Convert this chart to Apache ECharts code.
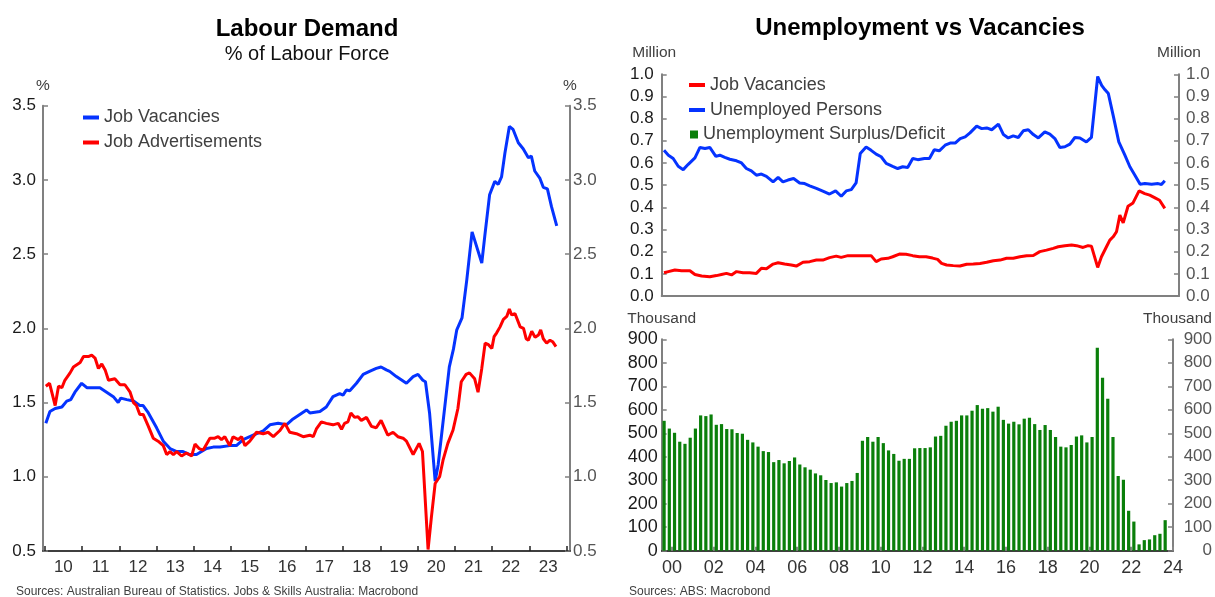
<!DOCTYPE html>
<html>
<head>
<meta charset="utf-8">
<script src="https://cdn.jsdelivr.net/npm/echarts@6/dist/echarts.min.js"></script>
<style>
  html, body { margin: 0; padding: 0; background: #fff; }
  #main { width: 1215px; height: 597px; }
</style>
</head>
<body>
<div id="main"></div>
<script>
// Left panel: % of labour force, [decimal year, value]
const jobVacancyRate = [
  [2010.03,1.36],[2010.14,1.44],[2010.28,1.46],[2010.46,1.47],[2010.59,1.51],[2010.70,1.52],[2010.81,1.57],[2010.99,1.63],
  [2011.13,1.60],[2011.30,1.60],[2011.48,1.60],[2011.66,1.57],[2011.84,1.54],[2011.97,1.50],[2012.04,1.53],[2012.20,1.52],
  [2012.38,1.51],[2012.55,1.48],[2012.64,1.48],[2012.78,1.43],[2013.00,1.33],[2013.18,1.24],[2013.36,1.19],[2013.54,1.17],
  [2013.71,1.17],[2013.89,1.15],[2014.07,1.15],[2014.34,1.19],[2014.52,1.20],[2014.70,1.20],[2014.96,1.21],[2015.14,1.21],
  [2015.32,1.25],[2015.59,1.28],[2015.86,1.31],[2016.04,1.35],[2016.26,1.36],[2016.48,1.35],[2016.66,1.39],[2016.84,1.42],
  [2017.02,1.45],[2017.11,1.43],[2017.38,1.44],[2017.55,1.47],[2017.73,1.54],[2017.91,1.56],[2018.00,1.55],[2018.09,1.585],
  [2018.18,1.58],[2018.36,1.63],[2018.54,1.69],[2018.71,1.71],[2018.89,1.73],[2019.02,1.74],[2019.16,1.72],[2019.25,1.71],
  [2019.43,1.675],[2019.70,1.63],[2019.88,1.675],[2020.01,1.69],[2020.14,1.65],[2020.21,1.64],[2020.32,1.43],[2020.47,0.97],
  [2020.55,1.08],[2020.65,1.30],[2020.75,1.52],[2020.85,1.74],[2020.96,1.86],[2021.05,1.99],[2021.19,2.07],[2021.32,2.33],
  [2021.46,2.65],[2021.72,2.44],[2021.80,2.62],[2021.93,2.90],[2022.07,2.99],[2022.16,2.97],[2022.25,3.02],[2022.34,3.18],
  [2022.46,3.36],[2022.56,3.34],[2022.70,3.25],[2022.83,3.21],[2022.97,3.15],[2023.05,3.16],[2023.14,3.06],[2023.28,3.01],
  [2023.37,2.95],[2023.48,2.94],[2023.59,2.82],[2023.73,2.69]
];
const jobAdsRate = [
  [2010.03,1.61],[2010.13,1.63],[2010.23,1.53],[2010.28,1.48],[2010.37,1.61],[2010.46,1.60],[2010.54,1.65],[2010.68,1.70],
  [2010.77,1.74],[2010.95,1.77],[2011.04,1.81],[2011.17,1.81],[2011.26,1.82],[2011.35,1.80],[2011.44,1.73],[2011.53,1.76],
  [2011.62,1.72],[2011.71,1.65],[2011.88,1.66],[2012.02,1.62],[2012.15,1.62],[2012.29,1.57],[2012.38,1.50],[2012.46,1.48],
  [2012.55,1.42],[2012.64,1.42],[2012.78,1.34],[2012.91,1.26],[2013.04,1.24],[2013.18,1.21],[2013.27,1.15],[2013.36,1.17],
  [2013.45,1.15],[2013.54,1.17],[2013.67,1.14],[2013.80,1.16],[2013.94,1.14],[2014.03,1.22],[2014.14,1.19],[2014.25,1.18],
  [2014.43,1.26],[2014.56,1.26],[2014.65,1.27],[2014.74,1.25],[2014.83,1.27],[2014.96,1.21],[2015.05,1.27],[2015.19,1.25],
  [2015.28,1.27],[2015.37,1.21],[2015.50,1.24],[2015.68,1.30],[2015.86,1.29],[2015.99,1.30],[2016.13,1.27],[2016.30,1.31],
  [2016.44,1.36],[2016.57,1.30],[2016.75,1.29],[2016.93,1.27],[2017.11,1.28],[2017.20,1.27],[2017.29,1.325],[2017.42,1.37],
  [2017.55,1.36],[2017.73,1.35],[2017.87,1.36],[2017.96,1.32],[2018.04,1.36],[2018.13,1.37],[2018.21,1.43],[2018.31,1.40],
  [2018.40,1.405],[2018.49,1.38],[2018.63,1.40],[2018.76,1.34],[2018.89,1.33],[2019.02,1.38],[2019.20,1.28],[2019.34,1.30],
  [2019.47,1.27],[2019.61,1.26],[2019.70,1.24],[2019.88,1.15],[2020.04,1.225],[2020.13,1.17],[2020.28,0.51],[2020.37,0.73],
  [2020.47,0.955],[2020.59,1.00],[2020.68,1.11],[2020.81,1.225],[2020.95,1.315],[2021.08,1.46],[2021.17,1.64],[2021.30,1.69],
  [2021.39,1.70],[2021.53,1.66],[2021.62,1.57],[2021.72,1.73],[2021.81,1.90],[2021.90,1.89],[2021.99,1.865],[2022.05,1.944],
  [2022.12,1.97],[2022.21,2.01],[2022.30,2.06],[2022.39,2.08],[2022.46,2.13],[2022.52,2.09],[2022.61,2.10],[2022.66,2.09],
  [2022.75,2.01],[2022.84,2.00],[2022.91,1.93],[2022.97,1.92],[2023.06,1.98],[2023.15,1.94],[2023.24,1.955],[2023.30,1.99],
  [2023.37,1.93],[2023.46,1.90],[2023.55,1.92],[2023.62,1.91],[2023.71,1.877]
];

// Right top panel: millions, [decimal year, value]
const vacanciesMn = [
  [1999.62,.105],[1999.83,.11],[2000.14,.117],[2000.46,.114],[2000.86,.114],[2001.10,.097],[2001.42,.09],[2001.81,.087],
  [2002.13,.092],[2002.37,.097],[2002.61,.102],[2002.85,.095],[2003.09,.11],[2003.40,.105],[2003.72,.105],[2004.04,.102],
  [2004.28,.125],[2004.52,.123],[2004.84,.144],[2005.08,.15],[2005.39,.144],[2005.71,.14],[2005.95,.135],[2006.27,.152],
  [2006.59,.155],[2006.91,.162],[2007.22,.162],[2007.54,.173],[2007.86,.18],[2008.10,.174],[2008.42,.182],[2008.81,.182],
  [2009.13,.182],[2009.53,.182],[2009.77,.155],[2010.01,.167],[2010.33,.17],[2010.56,.177],[2010.88,.189],[2011.20,.188],
  [2011.52,.182],[2011.84,.177],[2012.16,.177],[2012.47,.171],[2012.71,.165],[2012.90,.147],[2013.14,.14],[2013.46,.137],
  [2013.78,.135],[2014.10,.143],[2014.42,.144],[2014.74,.147],[2015.06,.152],[2015.38,.159],[2015.70,.162],[2016.01,.17],
  [2016.33,.17],[2016.65,.177],[2016.97,.182],[2017.29,.183],[2017.60,.20],[2017.92,.207],[2018.24,.215],[2018.48,.222],
  [2018.80,.227],[2019.12,.23],[2019.36,.227],[2019.67,.219],[2019.91,.227],[2020.07,.225],[2020.37,.129],[2020.55,.177],
  [2020.79,.222],[2020.95,.252],[2021.11,.267],[2021.27,.29],[2021.43,.365],[2021.59,.33],[2021.82,.405],[2022.06,.42],
  [2022.35,.474],[2022.62,.462],[2022.86,.455],[2023.09,.444],[2023.33,.432],[2023.58,.395]
];
const unemployedMn = [
  [1999.62,.657],[1999.83,.635],[2000.06,.62],[2000.30,.585],[2000.54,.57],[2000.78,.594],[2001.10,.623],[2001.34,.67],
  [2001.58,.665],[2001.81,.67],[2002.10,.63],[2002.29,.635],[2002.53,.625],[2002.77,.617],[2003.09,.61],[2003.33,.60],
  [2003.56,.575],[2003.80,.564],[2004.04,.545],[2004.28,.55],[2004.52,.54],[2004.84,.515],[2005.08,.535],[2005.31,.515],
  [2005.55,.523],[2005.82,.53],[2006.11,.51],[2006.35,.507],[2006.59,.497],[2006.91,.485],[2007.22,.473],[2007.54,.46],
  [2007.83,.474],[2008.10,.45],[2008.34,.474],[2008.58,.48],[2008.81,.51],[2009.01,.643],[2009.29,.672],[2009.53,.657],
  [2009.77,.64],[2010.01,.628],[2010.25,.598],[2010.56,.585],[2010.80,.575],[2011.04,.583],[2011.28,.58],[2011.52,.62],
  [2011.76,.615],[2012.08,.62],[2012.32,.62],[2012.55,.66],[2012.79,.655],[2013.07,.68],[2013.31,.69],[2013.55,.69],
  [2013.79,.71],[2014.03,.718],[2014.26,.736],[2014.58,.766],[2014.82,.755],[2015.06,.758],[2015.30,.75],[2015.62,.775],
  [2015.86,.728],[2016.09,.713],[2016.33,.722],[2016.57,.715],[2016.81,.745],[2017.05,.75],[2017.29,.728],[2017.53,.713],
  [2017.84,.74],[2018.08,.73],[2018.32,.71],[2018.56,.67],[2018.80,.673],[2019.04,.685],[2019.28,.715],[2019.52,.713],
  [2019.83,.695],[2020.07,.715],[2020.37,.99],[2020.56,.95],[2020.72,.93],[2020.88,.913],[2021.12,.81],[2021.38,.695],
  [2021.67,.635],[2021.91,.583],[2022.15,.545],[2022.40,.504],[2022.63,.507],[2022.95,.504],[2023.26,.507],[2023.42,.503],
  [2023.58,.52]
];

// Right bottom panel: thousands, one bar per quarter from Aug 1999 to Aug 2023
const surplusK = [
  553,520,502,464,455,481,520,576,573,580,536,539,518,517,501,498,472,461,443,424,420,377,386,372,382,397,367,355,345,
  329,321,301,288,291,273,288,297,331,468,484,464,484,458,427,412,383,391,391,436,
  437,437,440,486,489,532,549,553,576,576,596,620,604,607,592,613,557,541,549,538,562,566,539,514,535,514,484,443,440,
  450,486,491,461,484,864,736,647,484,318,302,170,124,27,45,48,66,72,130
];
const firstQuarter = 1999.625;
const barDates = surplusK.map((_, i) => firstQuarter + i / 4);

const leftTickYears = [2010,2011,2012,2013,2014,2015,2016,2017,2018,2019,2020,2021,2022,2023,2024];
const leftLabelYears = [2010.5,2011.5,2012.5,2013.5,2014.5,2015.5,2016.5,2017.5,2018.5,2019.5,2020.5,2021.5,2022.5,2023.5];
const rightTickYears = [2000,2002,2004,2006,2008,2010,2012,2014,2016,2018,2020,2022,2024];

const FONT = '"Liberation Sans", Arial, sans-serif';
const BLUE = '#0533ff';
const RED = '#ff0000';
const GREEN = '#0a7f0a';
const yy = v => String(Math.floor(v) % 100).padStart(2, '0');

const chart = echarts.init(document.getElementById('main'), null, { renderer: 'canvas' });

const yAxisBase = (grid, pos, min, max, interval, digits, extra) => Object.assign({
  type: 'value', gridIndex: grid, position: pos, min, max, interval,
  axisLine: { show: true, lineStyle: { color: '#808080', width: 2 } },
  axisTick: { show: true, inside: true, length: 5, lineStyle: { color: '#808080', width: 1.5 } },
  splitLine: { show: false },
  axisLabel: {
    fontSize: 17, fontFamily: FONT,
    color: pos === 'left' ? '#1a1a1a' : '#555',
    margin: pos === 'left' ? 7 : 4,
    formatter: v => v.toFixed(digits)
  },
  nameTextStyle: { fontSize: 15.5, color: '#404040', fontFamily: FONT }
}, extra || {});

const option = {
  animation: false,
  textStyle: { fontFamily: FONT },
  title: [
    { text: 'Labour Demand', left: 302, top: 12, textAlign: 'center',
      textStyle: { fontSize: 24, fontWeight: 'bold', color: '#000', fontFamily: FONT } },
    { text: '% of Labour Force', left: 302, top: 39, textAlign: 'center',
      textStyle: { fontSize: 20, fontWeight: 'normal', color: '#111', fontFamily: FONT } },
    { text: 'Unemployment vs Vacancies', left: 915, top: 11, textAlign: 'center',
      textStyle: { fontSize: 24, fontWeight: 'bold', color: '#000', fontFamily: FONT } },
    { text: 'Sources: Australian Bureau of Statistics. Jobs & Skills Australia: Macrobond', left: 11, top: 580.5,
      textStyle: { fontSize: 12, fontWeight: 'normal', color: '#404040', fontFamily: FONT } },
    { text: 'Sources: ABS: Macrobond', left: 624, top: 580.5,
      textStyle: { fontSize: 12, fontWeight: 'normal', color: '#404040', fontFamily: FONT } }
  ],
  legend: [
    { data: ['Job Vacancies', 'Job Advertisements'], orient: 'vertical', left: 78, top: 103.5,
      icon: 'rect', itemWidth: 16, itemHeight: 4, itemGap: 7,
      textStyle: { fontSize: 18, color: '#404040', fontFamily: FONT } },
    { data: ['Job Vacancies (count)', 'Unemployed Persons'], orient: 'vertical', left: 684, top: 71,
      icon: 'rect', itemWidth: 16, itemHeight: 4, itemGap: 7,
      formatter: n => n.replace(' (count)', ''),
      textStyle: { fontSize: 18, color: '#404040', fontFamily: FONT } },
    { data: ['Unemployment Surplus/Deficit'], orient: 'vertical', left: 685, top: 120.5,
      icon: 'rect', itemWidth: 8, itemHeight: 8,
      textStyle: { fontSize: 18, color: '#404040', fontFamily: FONT } }
  ],
  grid: [
    { left: 43, right: 645, top: 105.7, bottom: 46 },
    { left: 661.7, right: 36, top: 74.3, bottom: 301 },
    { left: 661.7, right: 41.7, top: 339.3, bottom: 46.3 }
  ],
  xAxis: [
    { type: 'value', gridIndex: 0, min: 2009.954, max: 2024.086,
      axisLine: { lineStyle: { color: '#000', width: 1.5 } },
      axisTick: { show: true, inside: true, length: 5, customValues: leftTickYears, lineStyle: { color: '#222', width: 1.5 } },
      axisLabel: { customValues: leftLabelYears, formatter: yy, fontSize: 17, color: '#333', margin: 8, fontFamily: FONT },
      splitLine: { show: false } },
    { type: 'value', gridIndex: 1, min: 1999.51, max: 2024.26,
      axisLine: { lineStyle: { color: '#808080', width: 2 } },
      axisTick: { show: false }, axisLabel: { show: false }, splitLine: { show: false } },
    { type: 'value', gridIndex: 2, min: 1999.51, max: 2024,
      axisLine: { lineStyle: { color: '#000', width: 1.5 } },
      axisTick: { show: true, inside: true, length: 4, customValues: rightTickYears, lineStyle: { color: '#888', width: 2 } },
      axisLabel: { customValues: rightTickYears, formatter: yy, fontSize: 18, color: '#333', margin: 8, fontFamily: FONT },
      splitLine: { show: false } }
  ],
  yAxis: [
    yAxisBase(0, 'left', 0.5, 3.5, 0.5, 1, { name: '%', nameLocation: 'end', nameGap: 12 }),
    yAxisBase(0, 'right', 0.5, 3.5, 0.5, 1, { name: '%', nameLocation: 'end', nameGap: 12 }),
    yAxisBase(1, 'left', 0, 1, 0.1, 1, { name: 'Million', nameLocation: 'end', nameGap: 14,
      nameTextStyle: { fontSize: 15.5, color: '#404040', fontFamily: FONT, padding: [0, 15, 0, 0] } }),
    yAxisBase(1, 'right', 0, 1, 0.1, 1, { name: 'Million', nameLocation: 'end', nameGap: 14 }),
    yAxisBase(2, 'left', 0, 900, 100, 0, { name: 'Thousand', nameLocation: 'end', nameGap: 13 }),
    yAxisBase(2, 'right', 0, 900, 100, 0, { name: 'Thousand', nameLocation: 'end', nameGap: 13,
      nameTextStyle: { fontSize: 15.5, color: '#404040', fontFamily: FONT, padding: [0, 0, 0, 9] } })
  ],
  series: [
    { name: 'Job Vacancies', type: 'line', xAxisIndex: 0, yAxisIndex: 0, data: jobVacancyRate,
      showSymbol: false, lineStyle: { color: BLUE, width: 3 }, itemStyle: { color: BLUE } },
    { name: 'Job Advertisements', type: 'line', xAxisIndex: 0, yAxisIndex: 0, data: jobAdsRate,
      showSymbol: false, lineStyle: { color: RED, width: 3 }, itemStyle: { color: RED } },
    { name: 'Job Vacancies (count)', type: 'line', xAxisIndex: 1, yAxisIndex: 2, data: vacanciesMn,
      showSymbol: false, lineStyle: { color: RED, width: 3 }, itemStyle: { color: RED } },
    { name: 'Unemployed Persons', type: 'line', xAxisIndex: 1, yAxisIndex: 2, data: unemployedMn,
      showSymbol: false, lineStyle: { color: BLUE, width: 3 }, itemStyle: { color: BLUE } },
    { name: 'Unemployment Surplus/Deficit', type: 'bar', xAxisIndex: 2, yAxisIndex: 4,
      data: barDates.map((d, i) => [d, surplusK[i]]),
      barWidth: 3.2, itemStyle: { color: GREEN } }
  ]
};

// right-aligned labels on the bottom right axis
option.yAxis[5].axisLabel.align = 'right';
option.yAxis[5].axisLabel.margin = 39;
option.yAxis[4].axisLabel.margin = 4;
option.yAxis[4].axisLabel.fontSize = 18;
option.yAxis[3].axisLabel.margin = 7;
option.yAxis[1].axisLabel.margin = 3;
option.yAxis[2].axisLabel.margin = 8;

chart.setOption(option);
</script>
</body>
</html>
